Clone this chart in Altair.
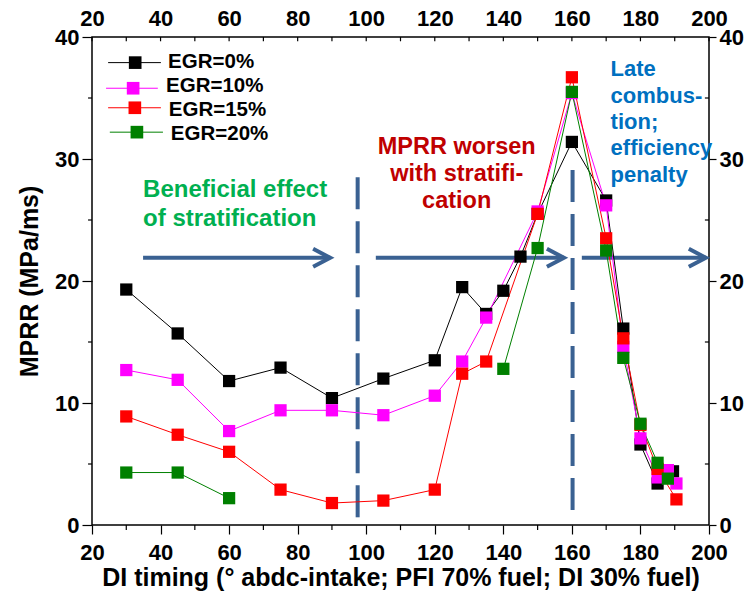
import altair as alt
import pandas as pd

# ---------------- data ----------------
series_names = ["EGR=0%", "EGR=10%", "EGR=15%", "EGR=20%"]
series_colors = ["#000000", "#FF00FF", "#FF0000", "#008000"]

egr0_x = [30, 45, 60, 75, 90, 105, 120, 128, 135, 140, 145, 150, 160, 170, 175, 180, 185, 189.5]
egr0_y = [19.3, 15.7, 11.8, 12.9, 10.4, 12.0, 13.5, 19.5, 17.3, 19.2, 22.0, 25.5, 31.4, 26.6, 16.1, 6.6, 3.4, 4.4]

egr10_x = [30, 45, 60, 75, 90, 105, 120, 128, 135, 150, 160, 170, 175, 180, 185, 188, 190.5]
egr10_y = [12.7, 11.9, 7.7, 9.4, 9.4, 9.0, 10.6, 13.4, 17.0, 25.7, 35.4, 26.2, 14.6, 7.1, 3.9, 4.5, 3.4]

egr15_x = [30, 45, 60, 75, 90, 105, 120, 128, 135, 150, 160, 170, 175, 180, 185, 190.5]
egr15_y = [8.9, 7.4, 6.0, 2.9, 1.8, 2.0, 2.9, 12.4, 13.4, 25.5, 36.7, 23.5, 15.3, 8.2, 4.6, 2.1]

egr20_x = [30, 45, 60, 140, 150, 160, 170, 175, 180, 185, 188]
egr20_y = [4.3, 4.3, 2.2, 12.8, 22.7, 35.5, 22.5, 13.7, 8.3, 5.1, 3.8]
egr20_seg = [0, 0, 0, 1, 1, 1, 1, 1, 1, 1, 1]

# axis tick values
x_major = [20, 40, 60, 80, 100, 120, 140, 160, 180, 200]
x_minor = [30, 50, 70, 90, 110, 130, 150, 170, 190]
y_major = [0, 10, 20, 30, 40]
y_minor = [5, 15, 25, 35]

# annotations
green_lines = ["Beneficial effect", "of stratification"]
red_lines = ["MPRR worsen", "with stratifi-", "cation"]
blue_lines = ["Late", "combus-", "tion;", "efficiency", "penalty"]

x_title = "DI timing (° abdc-intake; PFI 70% fuel; DI 30% fuel)"
y_title = "MPRR (MPa/ms)"

# ---------------- tables ----------------
rows = []
order = 0
for name, xs, ys, segs in [
    (series_names[0], egr0_x, egr0_y, [0] * len(egr0_x)),
    (series_names[1], egr10_x, egr10_y, [0] * len(egr10_x)),
    (series_names[2], egr15_x, egr15_y, [0] * len(egr15_x)),
    (series_names[3], egr20_x, egr20_y, egr20_seg),
]:
    for xv, yv, s in zip(xs, ys, segs):
        rows.append({"x": xv, "y": yv, "series": name, "key": f"{name}-{s}", "o": order})
        order += 1
df = pd.DataFrame(rows)

# legend (placed in data space, upper-left)
leg_y = [37.9, 35.8, 34.2, 32.2]
leg_line_x1 = [24.7, 24.1, 24.7, 25.2]
leg_line_x2 = [40.1, 39.2, 40.1, 40.7]
leg_sq_x = [32.6, 32.0, 32.5, 33.1]
leg_txt_x = [42.2, 41.6, 42.4, 43.0]
leg_txt_y = [37.95, 36.0, 34.0, 32.05]
leg_df = pd.DataFrame({
    "series": series_names, "y": leg_y, "x": leg_line_x1, "x2": leg_line_x2,
    "sx": leg_sq_x, "tx": leg_txt_x, "ty": leg_txt_y,
})

# guide lines / arrows
dash_df = pd.DataFrame({"x": [97.5, 160.2], "y": [28.5, 29.1], "y2": [0.0, 1.1]})
arrow_df = pd.DataFrame({"x": [34.9, 102.8, 162.9], "x2": [89.5, 157.7, 199.1], "y": [21.9, 21.9, 21.9]})

green_df = pd.DataFrame({"x": [34.9] * 2, "y": [26.9, 24.5], "t": green_lines})
red_df = pd.DataFrame({"x": [126.4] * 3, "y": [30.4, 28.2, 26.0], "t": red_lines})
blue_df = pd.DataFrame({"x": [171.3] * 5, "y": [36.8, 34.6, 32.5, 30.3, 28.1], "t": blue_lines})

# extra tick marks (minor / inward ticks)
tick_rows = []
for v in y_minor:
    tick_rows.append({"x": 20, "x2": 18.85, "y": v, "y2": v})     # left minor, outward
    tick_rows.append({"x": 200, "x2": 198.8, "y": v, "y2": v})    # right minor, inward
for v in x_minor:
    tick_rows.append({"x": v, "x2": v, "y": 0, "y2": -0.42})      # bottom minor, outward
for v in x_major + x_minor:
    tick_rows.append({"x": v, "x2": v, "y": 40, "y2": 39.65})     # top, inward
ticks_df = pd.DataFrame(tick_rows)

# ---------------- encodings ----------------
FONT = "Liberation Sans"
xs = alt.Scale(domain=[20, 200], nice=False, zero=False)
ys = alt.Scale(domain=[0, 40], nice=False, zero=False)
xax = alt.Axis(values=x_major, tickSize=9, labelPadding=8, title=x_title, titlePadding=2,
               grid=False, domain=False, labelFlush=False)
yax = alt.Axis(values=y_major, tickSize=10, labelPadding=3, title=y_title, titlePadding=12,
               grid=False, domain=False, labelFlush=False)


def X(f):
    return alt.X(f, type="quantitative", scale=xs, axis=xax)


def Y(f):
    return alt.Y(f, type="quantitative", scale=ys, axis=yax)


color = alt.Color("series:N", scale=alt.Scale(domain=series_names, range=series_colors), legend=None)

lines = alt.Chart(df).mark_line(strokeWidth=1).encode(
    x=X("x"), y=Y("y"), color=color, detail="key:N", order="o:Q")
points = alt.Chart(df).mark_square(size=150, opacity=1).encode(
    x=X("x"), y=Y("y"), color=color, order="o:Q")

leg_lines = alt.Chart(leg_df).mark_rule(strokeWidth=1).encode(
    x=X("x"), x2="x2:Q", y=Y("y"), color=color)
leg_sq = alt.Chart(leg_df).mark_square(size=160, opacity=1).encode(
    x=X("sx"), y=Y("y"), color=color)
leg_txt = alt.Chart(leg_df).mark_text(align="left", baseline="middle", font=FONT,
                                      fontSize=20.5, fontWeight="bold", color="black").encode(
    x=X("tx"), y=Y("ty"), text="series:N")

GUIDE = "#3A6192"
dashes = alt.Chart(dash_df).mark_rule(strokeWidth=4, strokeDash=[32, 12], color=GUIDE).encode(
    x=X("x"), y=Y("y"), y2="y2:Q")
shafts = alt.Chart(arrow_df).mark_rule(strokeWidth=4, color=GUIDE).encode(
    x=X("x"), x2="x2:Q", y=Y("y"))
heads = alt.Chart(arrow_df).mark_point(shape="M -1.9 -1 L 0 0 L -1.9 1", filled=False, size=324,
                                       strokeWidth=4, color=GUIDE, opacity=1).encode(
    x=X("x2"), y=Y("y"))


def text_layer(d, color_, align, size):
    return alt.Chart(d).mark_text(align=align, baseline="alphabetic", font=FONT, fontSize=size,
                                  fontWeight="bold", color=color_).encode(
        x=X("x"), y=Y("y"), text="t:N")


green_t = text_layer(green_df, "#00B050", "left", 24)
red_t = text_layer(red_df, "#C00000", "center", 23.5)
blue_t = text_layer(blue_df, "#0070C0", "left", 22)

ticks = alt.Chart(ticks_df).mark_rule(strokeWidth=1.2, color="black").encode(
    x=X("x"), x2="x2:Q", y=Y("y"), y2="y2:Q")

main = alt.layer(ticks, dashes, shafts, heads, green_t, red_t, blue_t,
                 lines, points, leg_lines, leg_sq, leg_txt)

# top and right axes
frame_df = pd.DataFrame({"x": [20, 200], "y": [0, 40]})
frame = alt.Chart(frame_df).mark_point(opacity=0).encode(
    x=alt.X("x:Q", scale=alt.Scale(domain=[20, 200], nice=False, zero=False),
            axis=alt.Axis(orient="top", values=x_major, tickSize=0, labelPadding=7, title=None,
                          grid=False, domain=False, labelFlush=False)),
    y=alt.Y("y:Q", scale=alt.Scale(domain=[0, 40], nice=False, zero=False),
            axis=alt.Axis(orient="right", values=y_major, tickSize=7, labelPadding=3, title=None,
                          grid=False, domain=False, labelFlush=False)),
)

chart = alt.layer(main, frame).resolve_scale(x="independent", y="independent").properties(
    width=617, height=488,
    autosize=alt.AutoSizeParams(type="none"),
    padding={"left": 92, "top": 37, "right": 43, "bottom": 69},
    background="white",
).configure_view(stroke="black", strokeWidth=1.5).configure_axis(
    labelFont=FONT, labelFontSize=22, labelFontWeight="bold", labelColor="black",
    titleFont=FONT, titleFontSize=25, titleFontWeight="bold", titleColor="black",
    tickColor="black", tickWidth=1.2,
)

chart.save("out.html", embed_options={"renderer": "svg", "actions": False})
